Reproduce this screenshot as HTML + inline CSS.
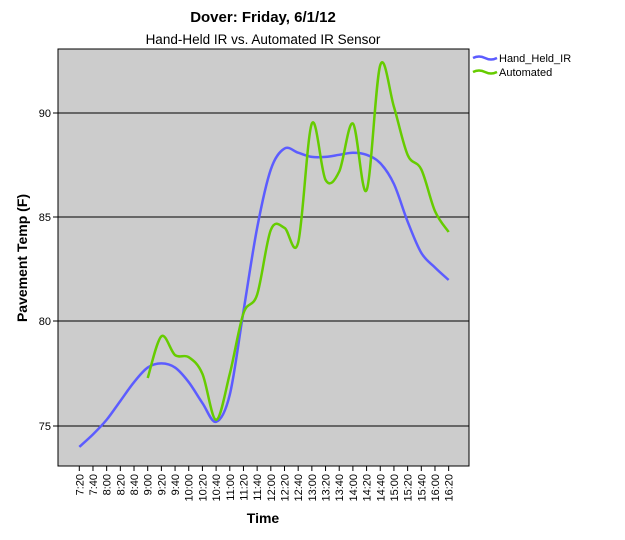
<!DOCTYPE html>
<html><head><style>body{margin:0;background:#fff}svg{display:block;font-family:"Liberation Sans",sans-serif}</style></head>
<body>
<svg id="s" width="625" height="540" xmlns="http://www.w3.org/2000/svg">
<text x="263" y="22" font-size="15" font-weight="bold" text-anchor="middle">Dover: Friday, 6/1/12</text>
<text x="263" y="44" font-size="13.5" text-anchor="middle">Hand-Held IR vs. Automated IR Sensor</text>
<rect x="58" y="49" width="411" height="417" fill="#cccccc" stroke="#000" stroke-width="1"/>
<g id="g"></g>
<text transform="translate(27,258) rotate(-90)" font-size="14" font-weight="bold" text-anchor="middle">Pavement Temp (F)</text>
<text x="263" y="523" font-size="14" font-weight="bold" text-anchor="middle">Time</text>
<path d="M473,58 q6,-3 12,0 t12,0" fill="none" stroke="#5c5cff" stroke-width="2.5"/>
<text x="499" y="62" font-size="11">Hand_Held_IR</text>
<path d="M473,72 q6,-3 12,0 t12,0" fill="none" stroke="#66cc00" stroke-width="2.5"/>
<text x="499" y="76" font-size="11">Automated</text>
</svg>
<script>
var g=document.getElementById('g'),ns='http://www.w3.org/2000/svg',h='';
function Y(v){return 426-(v-75)*20.86}
function X(i){return 79.3+i*13.68}
[[75,426],[80,321],[85,217],[90,113]].forEach(function(t){
h+='<line x1="58" x2="469" y1="'+t[1]+'" y2="'+t[1]+'" stroke="#000"/>';
h+='<line x1="53" x2="58" y1="'+t[1]+'" y2="'+t[1]+'" stroke="#000"/>';
h+='<text x="51" y="'+(t[1]+4)+'" font-size="11" text-anchor="end">'+t[0]+'</text>';});
for(var i=0;i<28;i++){var m=440+i*20,l=Math.floor(m/60)+':'+('0'+m%60).slice(-2),x=X(i);
h+='<line x1="'+x+'" x2="'+x+'" y1="466" y2="471" stroke="#000"/>';
h+='<text transform="translate('+(x+4)+',474) rotate(-90)" font-size="11" text-anchor="end">'+l+'</text>';}
function path(d,s){var p=d.map(function(v,k){return [X(k+s),Y(v)]}),r='M'+p[0][0]+','+p[0][1];
for(var k=0;k<p.length-1;k++){var a=p[k-1]||p[k],b=p[k],c=p[k+1],e=p[k+2]||c;
r+=' C'+(b[0]+(c[0]-a[0])/6)+','+(b[1]+(c[1]-a[1])/6)+' '+(c[0]-(e[0]-b[0])/6)+','+(c[1]-(e[1]-b[1])/6)+' '+c[0]+','+c[1];}return r;}
var blue=[74.0,74.6,75.3,76.2,77.1,77.8,78.0,77.8,77.1,76.1,75.2,76.5,80.5,84.5,87.3,88.3,88.1,87.9,87.9,88.0,88.1,88.0,87.6,86.6,84.8,83.3,82.6,82.0];
var green=[77.3,79.3,78.4,78.3,77.5,75.3,77.5,80.4,81.3,84.4,84.5,83.8,89.5,86.8,87.2,89.5,86.3,92.3,90.3,88.0,87.3,85.3,84.3];
h+='<path d="'+path(blue,0)+'" fill="none" stroke="#5c5cff" stroke-width="2.5"/>';
h+='<path d="'+path(green,5)+'" fill="none" stroke="#66cc00" stroke-width="2.5"/>';
g.innerHTML=h;
</script>
</body></html>
